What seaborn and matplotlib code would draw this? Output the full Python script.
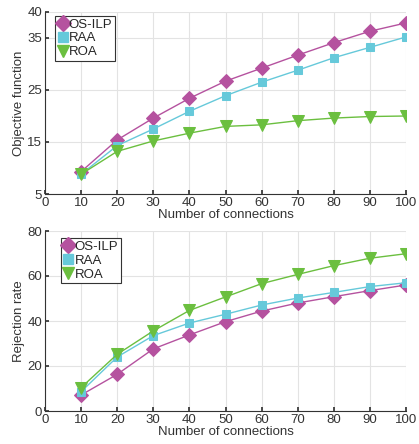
import numpy as np
import pandas as pd
import matplotlib
matplotlib.use("Agg")
import matplotlib.pyplot as plt
import seaborn as sns
from matplotlib.lines import Line2D

connections = [10, 20, 30, 40, 50, 60, 70, 80, 90, 100]
methods = ["OS-ILP", "RAA", "ROA"]

obj_osilp = [9.3, 15.4, 19.6, 23.4, 26.7, 29.2, 31.7, 34.1, 36.3, 37.9]
obj_raa = [8.8, 14.3, 17.5, 20.9, 23.9, 26.5, 28.8, 31.2, 33.2, 35.2]
obj_roa = [8.8, 13.2, 15.2, 16.7, 18.0, 18.3, 19.1, 19.6, 19.9, 20.0]

rej_osilp = [7.1, 16.3, 27.6, 33.8, 39.7, 44.4, 48.0, 50.8, 53.5, 56.0]
rej_raa = [8.6, 24.0, 33.5, 39.1, 43.0, 47.1, 50.2, 52.7, 55.3, 57.0]
rej_roa = [10.4, 25.2, 35.6, 44.7, 50.7, 56.6, 60.7, 64.6, 67.9, 69.9]

obj_ticks = [5, 15, 25, 35, 40]
rej_ticks = [0, 20, 40, 60, 80]
x_ticks = [0, 10, 20, 30, 40, 50, 60, 70, 80, 90, 100]

colors = {"OS-ILP": "#B5529F", "RAA": "#66C9DA", "ROA": "#6BBF3F"}
markers = {"OS-ILP": "D", "RAA": "s", "ROA": "v"}
msizes = {"OS-ILP": 7, "RAA": 6, "ROA": 8}

sns.set_theme(style="whitegrid")
plt.rcParams["font.family"] = ["Liberation Sans", "DejaVu Sans"]

def make_df(a, b, c):
    rows = []
    for m, vals in zip(methods, [a, b, c]):
        for x, v in zip(connections, vals):
            rows.append({"x": x, "y": v, "method": m})
    return pd.DataFrame(rows)

fig = plt.figure(figsize=(4.19, 4.44), dpi=100)
W, H = 419, 444
ax1 = fig.add_axes([45 / W, 1 - 194 / H, (406 - 45) / W, (194 - 12) / H])
ax2 = fig.add_axes([45 / W, 1 - 411 / H, (406 - 45) / W, (411 - 231) / H])

FS = 9.5

def draw(ax, df, yticks, ylabel, legend_anchor):
    for m in methods:
        sub = df[df["method"] == m]
        sns.lineplot(data=sub, x="x", y="y", ax=ax, color=colors[m],
                     marker=markers[m], markersize=msizes[m],
                     markeredgecolor=colors[m], linewidth=1.0, legend=False)
    ax.set_xlim(0, 100)
    ax.set_ylim(yticks[0], yticks[-1])
    ax.set_xticks(x_ticks)
    ax.set_yticks(yticks)
    ax.tick_params(labelsize=FS, colors="#333333", length=3, direction="in",
                   left=True, bottom=True, pad=2)
    ax.set_xlabel("Number of connections", fontsize=FS, color="#333333", labelpad=0)
    ax.set_ylabel(ylabel, fontsize=FS, color="#333333", labelpad=2)
    ax.grid(True, color="#E3E3E3", linewidth=0.8)
    for s in ["top", "right"]:
        ax.spines[s].set_visible(False)
    for s in ["left", "bottom"]:
        ax.spines[s].set_color("#333333")
        ax.spines[s].set_linewidth(0.8)
    handles = [Line2D([], [], color=colors[m], marker=markers[m],
                      markersize=msizes[m] + 1, linestyle="none") for m in methods]
    leg = ax.legend(handles, methods, loc="upper left", bbox_to_anchor=legend_anchor,
                    fontsize=FS, frameon=True, fancybox=False, handlelength=0.8,
                    handletextpad=0.05, borderpad=0.2, labelspacing=0.12,
                    borderaxespad=0)
    leg.get_frame().set_edgecolor("#333333")
    leg.get_frame().set_linewidth(0.8)
    leg.get_frame().set_alpha(1)

draw(ax1, make_df(obj_osilp, obj_raa, obj_roa), obj_ticks, "Objective function", (0.027, 0.98))
draw(ax2, make_df(rej_osilp, rej_raa, rej_roa), rej_ticks, "Rejection rate", (0.043, 0.96))

fig.savefig("out.png", dpi=100)
